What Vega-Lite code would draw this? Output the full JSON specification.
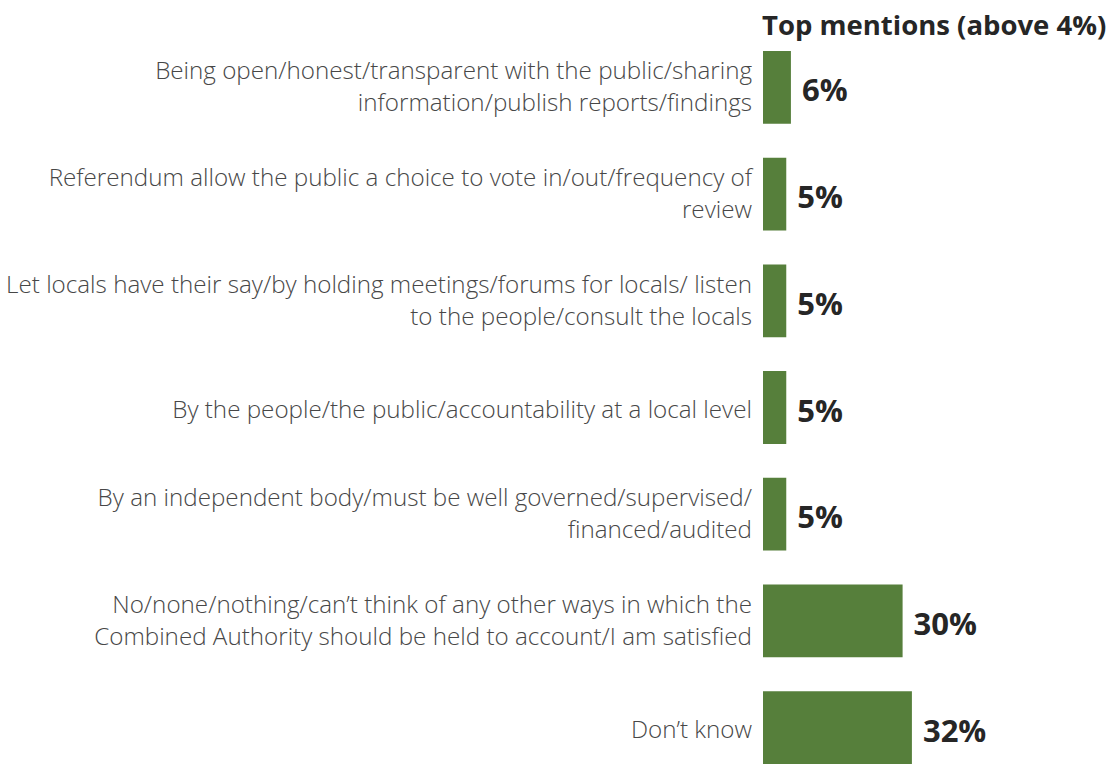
{
  "$schema": "https://vega.github.io/schema/vega-lite/v6.json",
  "width": 349,
  "height": 713,
  "autosize": {"type": "none"},
  "padding": {"left": 763, "top": 51, "right": 0, "bottom": 0},
  "background": "white",
  "config": {"view": {"stroke": null}},
  "title": {
    "text": "Top mentions (above 4%)",
    "anchor": "start",
    "frame": "group",
    "font": "Open Sans",
    "fontSize": 27.5,
    "fontWeight": "bold",
    "color": "#262626",
    "offset": 11,
    "dx": -1
  },
  "data": {
    "values": [
      {"label": "Being open/honest/transparent with the public/sharing|information/publish reports/findings", "pct": 6},
      {"label": "Referendum allow the public a choice to vote in/out/frequency of|review", "pct": 5},
      {"label": "Let locals have their say/by holding meetings/forums for locals/ listen|to the people/consult the locals", "pct": 5},
      {"label": "By the people/the public/accountability at a local level", "pct": 5},
      {"label": "By an independent body/must be well governed/supervised/|financed/audited", "pct": 5},
      {"label": "No/none/nothing/can’t think of any other ways in which the|Combined Authority should be held to account/I am satisfied", "pct": 30},
      {"label": "Don’t know", "pct": 32}
    ]
  },
  "encoding": {
    "y": {"field": "label", "type": "nominal", "sort": null, "axis": null,
          "scale": {"paddingInner": 0.318, "paddingOuter": 0}},
    "x": {"field": "pct", "type": "quantitative", "axis": null, "scale": {"domain": [0, 75]}}
  },
  "layer": [
    {"mark": {"type": "bar", "color": "#567F3B"}},
    {"mark": {"type": "text", "align": "left", "baseline": "middle", "dx": 11, "dy": 5,
              "font": "Open Sans", "fontSize": 31, "fontWeight": "bold", "color": "#262626",
              "text": {"expr": "datum.pct + '%'"}}},
    {"transform": [{"filter": "indexof(datum.label, '|') >= 0"}],
     "mark": {"type": "text", "align": "right", "baseline": "middle", "dx": -11, "dy": -15,
              "font": "Open Sans", "fontSize": 24.2, "fontWeight": 300, "color": "#474747",
              "lineBreak": "|", "lineHeight": 32},
     "encoding": {"x": {"datum": 0, "type": "quantitative"}, "text": {"field": "label"}}},
    {"transform": [{"filter": "indexof(datum.label, '|') < 0"}],
     "mark": {"type": "text", "align": "right", "baseline": "middle", "dx": -11, "dy": 3,
              "font": "Open Sans", "fontSize": 24.2, "fontWeight": 300, "color": "#474747"},
     "encoding": {"x": {"datum": 0, "type": "quantitative"}, "text": {"field": "label"}}}
  ]
}
